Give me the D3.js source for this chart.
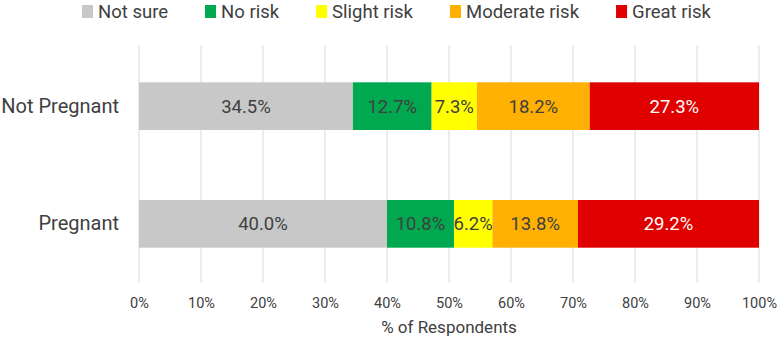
<!DOCTYPE html>
<html>
<head>
<meta charset="utf-8">
<script src="https://cdn.jsdelivr.net/npm/d3@7"></script>
<style>
  body { margin: 0; background: #fff; }
  text { font-family: Roboto, "Open Sans", sans-serif; fill: #404040; }
</style>
</head>
<body>
<div id="chart"></div>
<script>
// Данные
const groups = ["Not Pregnant", "Pregnant"];
const categories = ["Not sure", "No risk", "Slight risk", "Moderate risk", "Great risk"];
const colors = ["#c8c8c8", "#00a84f", "#ffff00", "#ffb000", "#e00000"];
const labelColors = ["#404040", "#404040", "#404040", "#404040", "#ffffff"];
const notPregnant = [34.5, 12.7, 7.3, 18.2, 27.3];
const pregnant = [40.0, 10.8, 6.2, 13.8, 29.2];
const xTicks = [0, 10, 20, 30, 40, 50, 60, 70, 80, 90, 100];

const values = [notPregnant, pregnant];

const W = 778, H = 339;
const margin = { top: 47, right: 19, bottom: 56, left: 139 },
      width = W - margin.left - margin.right,
      height = H - margin.top - margin.bottom;

const svg = d3.select("#chart")
  .append("svg")
  .attr("width", W)
  .attr("height", H);

const g = svg.append("g")
  .attr("transform", `translate(${margin.left},${margin.top})`);

const x = d3.scaleLinear().domain([0, 100]).range([0, width]);
const y = d3.scaleBand().domain(groups).range([0, height]).paddingInner(0.595).paddingOuter(0.3);

// Сетка
g.append("g")
  .selectAll("line")
  .data(xTicks)
  .join("line")
  .attr("x1", d => x(d)).attr("x2", d => x(d))
  .attr("y1", -2).attr("y2", height)
  .attr("stroke", "#d9d9d9")
  .attr("stroke-width", 1);

// Ось X
const xAxis = g.append("g")
  .attr("transform", `translate(0,${height})`)
  .call(d3.axisBottom(x).tickValues(xTicks).tickFormat(d => d + "%").tickSize(0).tickPadding(15));
xAxis.select(".domain").remove();
xAxis.selectAll("text").style("font-size", "14.5px").attr("fill", "#595959");

// Ось Y
const yAxis = g.append("g")
  .call(d3.axisLeft(y).tickSize(0).tickPadding(20));
yAxis.select(".domain").remove();
yAxis.selectAll("text").style("font-size", "20px").attr("fill", "#404040");

// Сегменты
const rows = groups.map((grp, i) => {
  let acc = 0;
  return values[i].map((v, j) => {
    const seg = { group: grp, idx: j, v: v, x0: acc, x1: acc + v };
    acc += v;
    return seg;
  });
}).flat();

g.append("g")
  .selectAll("rect")
  .data(rows)
  .join("rect")
  .attr("x", d => x(d.x0))
  .attr("width", d => x(d.x1) - x(d.x0))
  .attr("y", d => y(d.group))
  .attr("height", y.bandwidth())
  .attr("fill", d => colors[d.idx]);

g.append("g")
  .selectAll("text")
  .data(rows)
  .join("text")
  .attr("x", d => x((d.x0 + d.x1) / 2))
  .attr("y", d => y(d.group) + y.bandwidth() / 2)
  .attr("dy", "0.35em")
  .attr("text-anchor", "middle")
  .style("font-size", "18.5px")
  .style("fill", d => labelColors[d.idx])
  .text(d => d.v.toFixed(1) + "%");

// Подпись оси
svg.append("text")
  .attr("x", margin.left + width / 2)
  .attr("y", 333)
  .attr("text-anchor", "middle")
  .style("font-size", "17px")
  .text("% of Respondents");

// Легенда
const legend = svg.append("g").attr("transform", "translate(82,18)");
let lx = 0;
categories.forEach((c, i) => {
  const item = legend.append("g").attr("transform", `translate(${lx},0)`);
  item.append("rect").attr("x", 0).attr("y", -13).attr("width", 11).attr("height", 13).attr("fill", colors[i]);
  const t = item.append("text").attr("x", 16).attr("y", 0)
    .style("font-size", "18.5px").text(c);
  lx += 16 + t.node().getComputedTextLength() + 37;
});
</script>
</body>
</html>
